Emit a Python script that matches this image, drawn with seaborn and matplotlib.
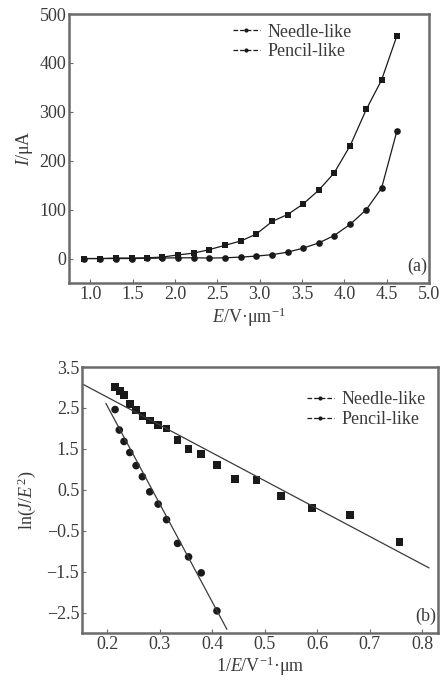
import numpy as np
import pandas as pd
import matplotlib
matplotlib.use("Agg")
import matplotlib.pyplot as plt
import seaborn as sns

# ---------------- data ----------------
# panel (a): I-E curves
E_needle = [0.93, 1.12, 1.30, 1.49, 1.67, 1.85, 2.04, 2.22, 2.40, 2.59, 2.78,
            2.96, 3.15, 3.33, 3.51, 3.70, 3.88, 4.07, 4.26, 4.44, 4.62]
I_needle = [0, 0, 1, 1, 1.5, 3, 7.5, 11, 18, 27, 36,
            50, 76, 90, 111, 140, 175, 231, 305, 365, 455]
E_pencil = [0.93, 1.12, 1.30, 1.49, 1.67, 1.85, 2.04, 2.22, 2.40, 2.59, 2.78,
            2.96, 3.15, 3.33, 3.51, 3.70, 3.88, 4.07, 4.26, 4.44, 4.62]
I_pencil = [0, 0, 0, 0, 0.5, 1, 1.5, 1.5, 1, 1.5, 3,
            5, 8, 13, 21, 32, 47, 70, 100, 144, 260]

# panel (b): F-N plots
invE_needle = [0.215, 0.224, 0.232, 0.243, 0.255, 0.267, 0.281, 0.297, 0.313, 0.334,
               0.355, 0.379, 0.409, 0.443, 0.484, 0.531, 0.590, 0.662, 0.757]
lnJ_needle = [3.01, 2.92, 2.81, 2.59, 2.45, 2.30, 2.19, 2.08, 2.00, 1.72,
              1.49, 1.37, 1.10, 0.77, 0.74, 0.35, 0.05, -0.12, -0.77]
invE_pencil = [0.215, 0.223, 0.232, 0.243, 0.255, 0.267, 0.281, 0.297, 0.313, 0.334,
               0.355, 0.379, 0.409]
lnJ_pencil = [2.46, 1.96, 1.68, 1.41, 1.09, 0.82, 0.45, 0.15, -0.23, -0.81,
              -1.14, -1.53, -2.46]
# fitted lines (endpoints)
fit_needle_x = [0.152, 0.813]
fit_needle_y = [3.09, -1.41]
fit_pencil_x = [0.1975, 0.428]
fit_pencil_y = [2.61, -2.91]

labels = ["Needle-like", "Pencil-like"]

# ---------------- style ----------------
sns.set_theme(style="ticks")
plt.rcParams["font.family"] = ["Liberation Serif", "DejaVu Serif"]
plt.rcParams["mathtext.fontset"] = "custom"
plt.rcParams["mathtext.rm"] = "Liberation Serif"
plt.rcParams["mathtext.it"] = "Liberation Serif:italic"
plt.rcParams["mathtext.default"] = "regular"

txt = "#3a3a3a"
spc = "#6a6a6a"
ink = "#1a1a1a"
FS = 13

fig = plt.figure(figsize=(4.43, 6.80), dpi=100)
W, H = 443, 680
ax1 = fig.add_axes([69 / W, 1 - 283 / H, (429 - 69) / W, (283 - 14) / H])
ax2 = fig.add_axes([82 / W, 1 - 633 / H, (438 - 82) / W, (633 - 367) / H])

# ---- panel (a)
da = pd.concat([
    pd.DataFrame({"E": E_needle, "I": I_needle, "s": labels[0]}),
    pd.DataFrame({"E": E_pencil, "I": I_pencil, "s": labels[1]}),
])
sns.lineplot(data=da, x="E", y="I", hue="s", style="s",
             palette=[ink, ink], markers=["s", "o"], dashes=False,
             markersize=4.8, linewidth=0.9, markeredgewidth=0,
             ax=ax1, legend=True)
ax1.set_xlim(0.75, 5.0)
ax1.set_ylim(-50, 500)
ax1.set_xticks(np.arange(1.0, 5.01, 0.5))
ax1.set_yticks(np.arange(0, 501, 100))
ax1.set_xlabel(r"$\mathit{E}$/V·μm$^{-1}$", color=txt, fontsize=FS, labelpad=2)
ax1.set_ylabel(r"$\mathit{I}$/μA", color=txt, fontsize=FS, labelpad=3)
leg = ax1.legend(frameon=False, loc="upper left", bbox_to_anchor=(0.41, 1.025),
                 fontsize=FS, handlelength=1.5, labelspacing=0.15,
                 handletextpad=0.4, labelcolor=txt)
for h in leg.legend_handles:
    h.set_marker("o")
    h.set_markersize(3)
    h.set_linestyle("--")
    h.set_linewidth(0.9)
ax1.text(0.995, 0.03, "(a)", transform=ax1.transAxes, ha="right", va="bottom",
         color=txt, fontsize=FS)

# ---- panel (b)
db = pd.concat([
    pd.DataFrame({"x": invE_needle, "y": lnJ_needle, "s": labels[0]}),
    pd.DataFrame({"x": invE_pencil, "y": lnJ_pencil, "s": labels[1]}),
])
sns.scatterplot(data=db, x="x", y="y", hue="s", style="s",
                palette=[ink, ink], markers=["s", "o"], s=30,
                linewidth=0, ax=ax2, legend=True)
sns.lineplot(x=fit_needle_x, y=fit_needle_y, color="#3a3a3a", linewidth=0.9, ax=ax2)
sns.lineplot(x=fit_pencil_x, y=fit_pencil_y, color="#3a3a3a", linewidth=0.9, ax=ax2)
ax2.set_xlim(0.152, 0.83)
ax2.set_ylim(-3.0, 3.5)
ax2.set_xticks(np.arange(0.2, 0.81, 0.1))
ax2.set_yticks(np.arange(-2.5, 3.6, 1.0))
ax2.set_xticklabels([f"{v:.1f}" for v in np.arange(0.2, 0.81, 0.1)])
ax2.set_yticklabels([f"{v:.1f}".replace("-", "−") for v in np.arange(-2.5, 3.6, 1.0)])
ax2.set_xlabel(r"1/$\mathit{E}$/V$^{-1}$·μm", color=txt, fontsize=FS, labelpad=1)
ax2.set_ylabel(r"ln($\mathit{J}$/$\mathit{E}^{2}$)", color=txt, fontsize=FS, labelpad=6)
leg2 = ax2.legend(frameon=False, loc="upper right", bbox_to_anchor=(1.01, 0.97),
                  fontsize=FS, handlelength=1.5, labelspacing=0.15,
                  handletextpad=0.4, labelcolor=txt)
for h in leg2.legend_handles:
    h.set_marker("o")
    h.set_markersize(3)
    h.set_linestyle("--")
    h.set_linewidth(0.9)
    h.set_color(ink)
ax2.text(0.995, 0.03, "(b)", transform=ax2.transAxes, ha="right", va="bottom",
         color=txt, fontsize=FS)

for ax in (ax1, ax2):
    for sp in ax.spines.values():
        sp.set_visible(True)
        sp.set_color(spc)
        sp.set_linewidth(1.8)
    ax.tick_params(direction="in", length=3, width=0.8, colors=spc,
                   labelcolor=txt, labelsize=FS, pad=2)
    ax.set_facecolor("white")

fig.savefig("out.png", dpi=100, facecolor="white")
